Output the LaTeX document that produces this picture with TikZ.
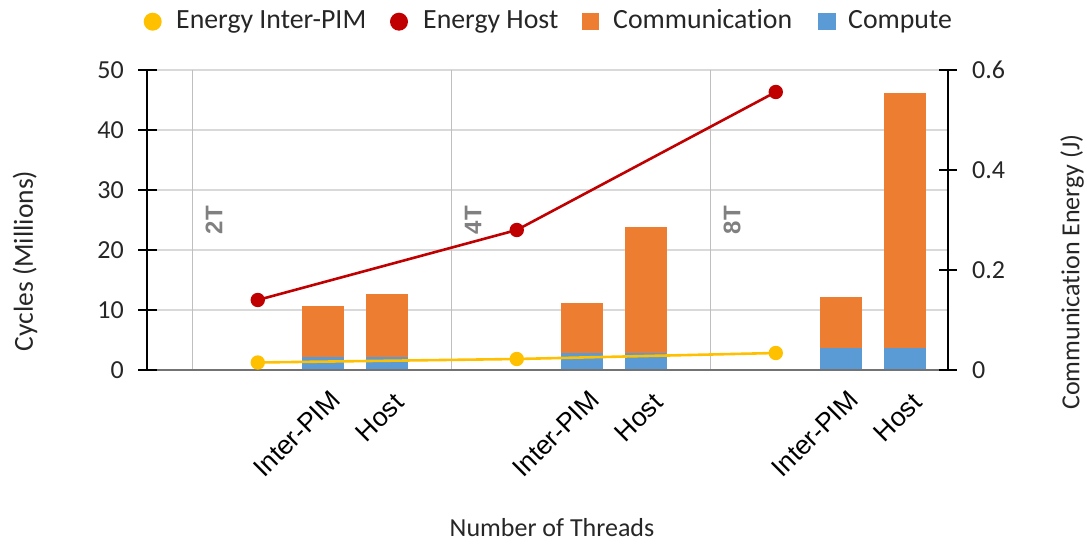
\documentclass[tikz,border=0pt]{standalone}
\usepackage{fontspec}
\setmainfont{Carlito}[Ligatures=NoCommon]
\newfontfamily\arialfont{Liberation Sans}
\begin{document}
\begin{tikzpicture}[x=1pt,y=-1pt,
  lbl/.style={inner sep=0pt, font=\fontsize{26}{30}\selectfont, text=black!85},
  leg/.style={inner sep=0pt, font=\fontsize{27.8}{32}\selectfont, text=black!85, anchor=base west},
  catlbl/.style={inner sep=0pt, font=\arialfont\fontsize{26.5}{30}\selectfont, rotate=45, anchor=east},
  grp/.style={inner sep=0pt, font=\arialfont\bfseries\fontsize{24}{28}\selectfont, text=black!50, rotate=90},
  grid/.style={draw=black!15, line width=1.2pt},
  sep/.style={draw=black!25, line width=1.4pt},
  axisline/.style={draw=black, line width=1.4pt},
  comm/.style={fill=commC},
  comp/.style={fill=compC},
  zerobar/.style={draw=commC, line width=1.5pt},
  hostline/.style={draw=hostC, line width=2.6pt},
  pimline/.style={draw=pimC, line width=2.6pt},
]
\definecolor{commC}{HTML}{ED7D31}
\definecolor{compC}{HTML}{5B9BD5}
\definecolor{hostC}{HTML}{C00000}
\definecolor{pimC}{HTML}{FFC000}
\useasboundingbox (0,0) rectangle (1087,545);

% horizontal grid (every 10 million cycles)
\foreach \v in {10,20,30,40,50}
  \draw[grid] (147,370-6*\v) -- (948,370-6*\v);

% group separators
\foreach \x in {192.7,451.7,710.7}
  \draw[sep] (\x,70) -- (\x,370);

% group names
\node[grp] (g2) at (214,220) {2T};
\node[grp] (g4) at (473,220) {4T};
\node[grp] (g8) at (732,220) {8T};

% empty slots drawn as zero-height bars
\foreach \c in {193,257.75,452,516.75,711,775.75}
  \draw[zerobar] (\c-21,369.3) -- (\c+21,369.3);

% stacked bars: compute, communication
\foreach \c/\b/\t in {322.5/2.1/10.6, 387.25/2.1/12.7, 581.5/2.9/11.1, 646.25/2.9/23.9, 840.5/3.7/12.2, 905.25/3.7/46.2}{
  \fill[comp] (\c-21,370) rectangle (\c+21,370-6*\b);
  \fill[comm] (\c-21,370-6*\b) rectangle (\c+21,370-6*\t);
}

% x axis
\draw[draw=black!55, line width=1.4pt] (147,370) -- (948,370);

% left axis
\draw[axisline] (147,70) -- (147,370);
\foreach \v in {0,10,20,30,40,50}{
  \draw[axisline] (138,370-6*\v) -- (157,370-6*\v);
  \node[lbl, anchor=east] at (124,370-6*\v) {\v};
}
% right axis
\draw[axisline] (948,70) -- (948,370);
\foreach \e/\t in {0/0,0.2/0.2,0.4/0.4,0.6/0.6}{
  \draw[axisline] (939,370-500*\e) -- (957,370-500*\e);
  \node[lbl, anchor=west] at (972,370-500*\e) {\t};
}

% energy series
\coordinate (h2) at (257.75,300);
\coordinate (h4) at (516.75,230);
\coordinate (h8) at (775.75,92);
\coordinate (p2) at (257.75,362.5);
\coordinate (p4) at (516.75,359);
\coordinate (p8) at (775.75,353);
\draw[pimline] (p2) -- (p4) -- (p8);
\draw[hostline] (h2) -- (h4) -- (h8);
\foreach \p in {p2,p4,p8} \fill[pimC] (\p) circle (7.2);
\foreach \p in {h2,h4,h8} \fill[hostC] (\p) circle (7.2);

% category labels
\foreach \c in {322.5,581.5,840.5}
  \node[catlbl] at (\c+13,395) {Inter-PIM};
\foreach \c in {387.25,646.25,905.25}
  \node[catlbl] at (\c+12,398) {Host};

% axis titles
\node[lbl, rotate=90, font=\fontsize{27.5}{32}\selectfont] (ytl) at (25,261) {Cycles (Millions)};
\node[lbl, rotate=90] (ytr) at (1072,272) {Communication Energy (J)};
\node[lbl] (xt) at (552,528) {Number of Threads};

% legend
\fill[pimC] (152.7,21.7) circle (9);
\node[leg] (l1) at (176,28.3) {Energy Inter-PIM};
\fill[hostC] (399,21.7) circle (9);
\node[leg] (l2) at (423,28.3) {Energy Host};
\fill[commC] (582,13) rectangle (599,30);
\node[leg] (l3) at (613,28.3) {Communication};
\fill[compC] (818,13) rectangle (835.5,30);
\node[leg] (l4) at (848,28.3) {Compute};
\end{tikzpicture}
\end{document}
